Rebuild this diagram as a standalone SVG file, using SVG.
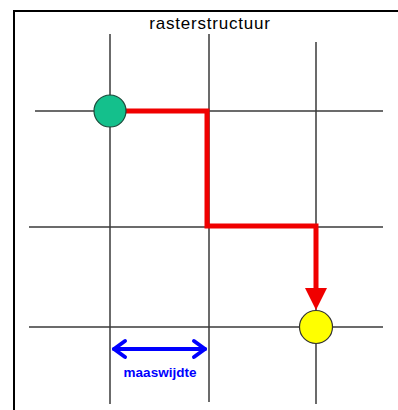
<svg xmlns="http://www.w3.org/2000/svg" width="398" height="410" viewBox="0 0 398 410">
<defs>
<style>
.grid{stroke:#3a3a3a;stroke-width:1.5;fill:none}
.route{stroke:#f00000;stroke-width:5;fill:none;stroke-linejoin:miter}
.lbl{font-family:"Liberation Sans",Arial,sans-serif}
</style>
<marker id="redhead" markerUnits="userSpaceOnUse" markerWidth="24" markerHeight="22" refX="0" refY="11" orient="auto" viewBox="0 0 24 22">
<path d="M0,0 L22,11 L0,22 Z" fill="#f00000"/>
</marker>
</defs>
<rect width="398" height="410" fill="#fff"/>
<path d="M14,410 V11 H398" stroke="#000" stroke-width="2" fill="none"/>
<text class="lbl" x="210" y="29" font-size="17" letter-spacing="0.8" text-anchor="middle" fill="#000">rasterstructuur</text>
<g id="grid">
<line class="grid" x1="110" y1="34" x2="110" y2="404"/>
<line class="grid" x1="209" y1="34" x2="209" y2="402"/>
<line class="grid" x1="316" y1="42" x2="316" y2="404"/>
<line class="grid" x1="35" y1="111" x2="383" y2="111"/>
<line class="grid" x1="29" y1="227" x2="383" y2="227"/>
<line class="grid" x1="29" y1="327" x2="383" y2="327"/>
</g>
<g id="connectors">
<path class="route" d="M124,111 H207 V226 H316 V288" marker-end="url(#redhead)"/>
<g id="maaswijdte-arrow" stroke="#0000ff" stroke-width="4" fill="none" stroke-linecap="round" stroke-linejoin="round">
<line x1="114" y1="349" x2="205" y2="349"/>
<polyline points="125,341 114,349 125,357"/>
<polyline points="194,341 205,349 194,357"/>
</g>
</g>
<g id="start">
<circle cx="110" cy="111" r="16" fill="#14c08c" stroke="#1a4a3a" stroke-width="1.2"/>
</g>
<g id="end">
<circle cx="316" cy="327" r="16.5" fill="#ffff00" stroke="#333" stroke-width="1.2"/>
</g>
<text class="lbl" x="160" y="377" font-size="13.5" font-weight="bold" text-anchor="middle" fill="#0000ff">maaswijdte</text>
</svg>
